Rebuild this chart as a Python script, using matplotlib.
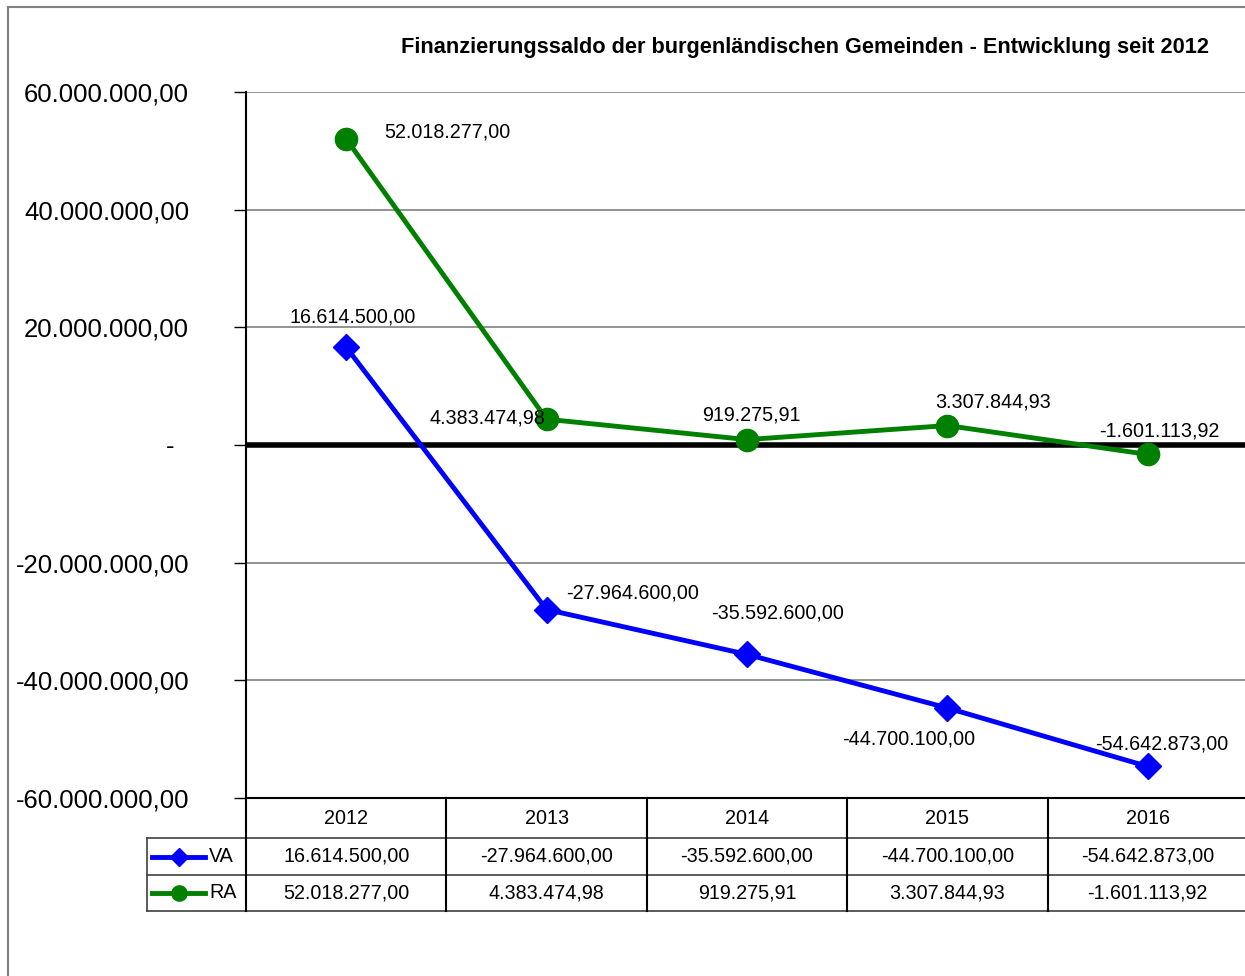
import matplotlib.pyplot as plt
import matplotlib.font_manager as fm
from matplotlib.lines import Line2D

# Finanzierungssaldo der burgenlaendischen Gemeinden
years = ["2012", "2013", "2014", "2015", "2016"]
va = [16614500.00, -27964600.00, -35592600.00, -44700100.00, -54642873.00]
ra = [52018277.00, 4383474.98, 919275.91, 3307844.93, -1601113.92]
yticks = [-60000000, -40000000, -20000000, 0, 20000000, 40000000, 60000000]

names = {f.name for f in fm.fontManager.ttflist}
font = "Liberation Sans Narrow" if "Liberation Sans Narrow" in names else "Liberation Sans"
plt.rcParams["font.family"] = [font, "DejaVu Sans"]


def fmt(v):
    s = "{:,.2f}".format(v)
    return s.replace(",", "X").replace(".", ",").replace("X", ".")


fig = plt.figure(figsize=(12.45, 9.76), dpi=100)

# outer chart frame (left and top)
fig.add_artist(Line2D([8 / 1245, 8 / 1245], [0, 1 - 7 / 976], color="#808080", lw=1.5))
fig.add_artist(Line2D([8 / 1245, 1], [1 - 7 / 976, 1 - 7 / 976], color="#808080", lw=1.5))

ax = fig.add_axes([246 / 1245, 178 / 976, 1002 / 1245, 706 / 976])
x = range(len(years))
ax.set_xlim(-0.5, 4.5)
ax.set_ylim(-60000000, 60000000)
ax.set_yticks(yticks)
ax.set_yticklabels([fmt(t) if t != 0 else "-  " for t in yticks], fontsize=18.5)
ax.tick_params(axis="y", length=9, width=1, pad=32, direction="out")
ax.set_xticks([])
for t in yticks:
    ax.axhline(t, color="#808080", lw=1.2, zorder=1)
ax.axhline(0, color="black", lw=4, zorder=2)
for s in ["top", "right"]:
    ax.spines[s].set_visible(False)
ax.spines["left"].set_linewidth(1.5)
ax.spines["bottom"].set_linewidth(1.5)

ax.plot(x, va, color="#0000ff", lw=3.5, marker="D", markersize=13, zorder=3)
ax.plot(x, ra, color="#008000", lw=3.5, marker="o", markersize=16, zorder=3)

# data labels (offsets in points)
va_off = [(5, 22), (62, 12), (22, 30), (-28, -22), (10, 16)]
ra_off = [(73, 5), (-43, 1), (3, 18), (33, 17), (8, 17)]
for i in x:
    ax.annotate(fmt(va[i]), (i, va[i]), xytext=va_off[i], textcoords="offset points",
                ha="center", va="center", fontsize=14.2, zorder=4)
    ax.annotate(fmt(ra[i]), (i, ra[i]), xytext=ra_off[i], textcoords="offset points",
                ha="center", va="center", fontsize=14.2, zorder=4)

fig.text(805 / 1245, 1 - 47 / 976, "Finanzierungssaldo der burgenländischen Gemeinden - Entwicklung seit 2012",
         ha="center", va="center", fontsize=15.7, fontweight="bold")

# data table below the plot
tb = fig.add_axes([246 / 1245, 65 / 976, 1002 / 1245, 113 / 976])
tb.set_xlim(-0.5, 4.5)
tb.set_ylim(113, 0)
tb.axis("off")
px = 1 / 200.4
left = -0.5 - 99 * px
rows = [40, 77, 113]
for r in rows:
    tb.plot([left, 4.5], [r, r], color="#404040", lw=1.2, clip_on=False)
tb.plot([left, left], [40, 113], color="#404040", lw=1.2, clip_on=False)
for i in range(len(years)):
    tb.plot([i - 0.5, i - 0.5], [0, 113], color="black", lw=1.5, clip_on=False)
    tb.text(i, 21, years[i], ha="center", va="center", fontsize=14.2)
    tb.text(i, 58.5, fmt(va[i]), ha="center", va="center", fontsize=14.2)
    tb.text(i, 95, fmt(ra[i]), ha="center", va="center", fontsize=14.2)

# legend keys inside the table
kx0 = left + 5 * px
kx1 = left + 58 * px
kxm = (kx0 + kx1) / 2
tb.plot([kx0, kxm, kx1], [58.5, 58.5, 58.5], color="#0000ff", lw=3.5,
        marker="D", markersize=9, markevery=[1], clip_on=False)
tb.plot([kx0, kxm, kx1], [95, 95, 95], color="#008000", lw=3.5,
        marker="o", markersize=11, markevery=[1], clip_on=False)
tb.text(kx1 + 4 * px, 58.5, "VA", ha="left", va="center", fontsize=14.2)
tb.text(kx1 + 4 * px, 95, "RA", ha="left", va="center", fontsize=14.2)

fig.savefig("out.png", dpi=100)
